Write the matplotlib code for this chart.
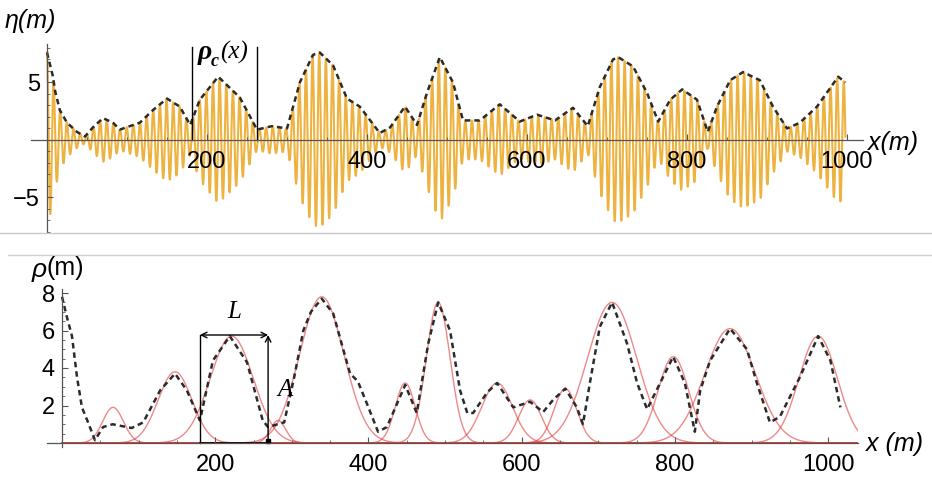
import numpy as np
import matplotlib.pyplot as plt
from matplotlib.ticker import MultipleLocator

# -----------------------------
# Data
# -----------------------------

# top panel: envelope of eta (dashed), x in m, value in m
eta_env_x = [0, 7.5, 10, 16, 25, 37.5, 47.5, 57.5, 70, 82.5, 91, 116, 132.5, 150, 166,
             179, 191, 214, 241, 262.5, 281, 300, 312.5, 316, 332.5, 341, 357.5, 375,
             391, 404, 416, 429, 447.5, 462.5, 475, 491, 507.5, 520, 541, 566, 591,
             612.5, 635, 657.5, 676, 691, 707.5, 714, 732.5, 750, 764, 779, 794, 812.5,
             826, 837.5, 854, 870, 891, 907.5, 925, 941, 962.5, 989, 998]
eta_env_y = [7.6, 5.5, 4.3, 2.6, 1.5, 0.7, 0.3, 1.1, 1.9, 1.5, 0.9, 1.5, 2.6, 3.6, 2.9,
             1.3, 3.5, 5.5, 3.7, 0.9, 1.2, 1.0, 4.1, 5.0, 7.4, 7.6, 6.5, 3.6,
             2.9, 1.7, 0.6, 1.1, 2.9, 1.3, 4.1, 7.2, 5.0, 1.7, 1.7, 3.1, 1.6,
             2.2, 1.7, 2.8, 1.2, 4.6, 7.0, 7.2, 6.4, 4.1, 1.6, 3.5, 4.4, 3.5,
             0.7, 2.9, 5.2, 5.9, 5.2, 2.9, 1.0, 1.5, 2.9, 5.5, 5.0]
carrier_wavelength = 8.3  # m, spacing of the orange spikes

# bottom panel: rho envelope (dashed)
rho_x = [0, 6.5, 13, 19.6, 26, 34, 43, 53.5, 66, 91, 106, 128, 147.5, 163, 180, 197,
         219, 241.5, 262, 269, 290, 303, 315, 325, 339, 354, 367, 376, 386, 398,
         412.5, 424, 448, 463, 478, 491, 506.5, 519.6, 529, 536.6, 555, 568, 589,
         611, 628, 641, 657, 672, 680, 689, 702, 718, 737.6, 750.7, 763.7, 780.7,
         797.7, 813, 826, 833, 846, 872, 894, 907, 924, 937, 963, 987, 1003, 1016]
rho_y = [7.8, 6.7, 5.7, 3.5, 1.9, 1.1, 0.15, 0.85, 1.0, 0.8, 1.1, 2.8, 3.7, 2.8, 1.2, 4.4,
         5.7, 4.3, 1.2, 0.85, 1.1, 3.5, 6.0, 7.0, 7.7, 6.9, 5.0, 3.7, 3.3, 2.1,
         0.6, 0.85, 3.1, 1.6, 5.3, 7.5, 6.0, 2.8, 1.6, 1.6, 2.7, 3.2, 1.9,
         2.2, 1.65, 2.3, 2.9, 1.9, 1.0, 3.2, 6.2, 7.5, 5.3, 3.2, 1.8, 3.2,
         4.6, 3.2, 0.6, 2.8, 4.4, 6.1, 5.0, 3.2, 1.1, 1.4, 3.5, 5.7, 4.4, 1.9]

# bottom panel: individual wave groups (centre, height, width)
group_centre = [66.6, 147.5, 221.5, 282, 339, 448, 491, 568, 611, 657, 718, 798, 872, 987]
group_height = [1.9, 3.8, 5.7, 1.2, 7.8, 3.2, 7.5, 3.2, 2.3, 2.9, 7.5, 4.6, 6.1, 5.7]
group_sigma = [13.5, 22, 28, 10, 29, 13, 15.5, 20, 15, 15, 32, 20, 33, 25]

# annotations
rhoc_left, rhoc_right = 181, 262.5
L_left, L_right, L_top = 180, 269, 5.76

ORANGE = '#EBAA2A'
RED = '#E23B3B'
GRAY = '#555555'


def style_axes(ax):
    for s in ['top', 'right']:
        ax.spines[s].set_visible(False)
    ax.spines['left'].set_position(('data', 0))
    ax.spines['bottom'].set_position(('data', 0))
    for s in ['left', 'bottom']:
        ax.spines[s].set_color(GRAY)
        ax.spines[s].set_linewidth(0.9)
    ax.set_axisbelow(False)
    ax.tick_params(which='both', direction='in', color=GRAY, labelsize=17)
    ax.tick_params(which='major', length=4, width=0.8)
    ax.tick_params(which='minor', length=2.5, width=0.6)
    ax.tick_params(axis='x', pad=8)
    ax.tick_params(axis='y', pad=5)
    ax.patch.set_alpha(0)


plt.rcParams['font.family'] = ['Liberation Sans', 'DejaVu Sans']
fig = plt.figure(figsize=(9.32, 4.78), dpi=100)

# -----------------------------
# Top panel: eta(x)
# -----------------------------
ax1 = fig.add_axes([31 / 932, 1 - 232 / 478, 832 / 932, 187.5 / 478])
xs = np.arange(0, 998.01, 0.2)
env = np.interp(xs, eta_env_x, eta_env_y)
eta = env * np.cos(2 * np.pi * xs / carrier_wavelength)
ax1.plot(xs, eta, color=ORANGE, lw=1.5, alpha=0.9)
ax1.plot(eta_env_x, eta_env_y, color='#2b2b2b', lw=1.8, ls=(0, (2.2, 1.6)))
ax1.set_xlim(-20, 1020)
ax1.set_ylim(-8.0, 8.3)
style_axes(ax1)
ax1.set_xticks([200, 400, 600, 800, 1000])
ax1.xaxis.set_minor_locator(MultipleLocator(50))
ax1.set_yticks([-5, 5])
ax1.yaxis.set_minor_locator(MultipleLocator(1))

# rho_c bracket
ax1.plot([rhoc_left, rhoc_left], [0, 8.1], color='black', lw=1)
ax1.plot([rhoc_right, rhoc_right], [0, 8.1], color='black', lw=1)
ax1.text(188, 7.6, 'ρ', fontsize=20, family='Liberation Serif',
         weight='bold', style='italic', ha='left', va='center')
ax1.text(205, 6.8, 'c', fontsize=13, family='Liberation Serif',
         weight='bold', style='italic', ha='left', va='center')
ax1.text(216, 7.6, '(x)', fontsize=18, family='Liberation Serif',
         style='italic', ha='left', va='center')

fig.text(5 / 932, 1 - 21 / 478, 'η(m)', fontsize=18, style='italic', va='center', ha='left')
fig.text(868 / 932, 1 - 143 / 478, 'x(m)', fontsize=18, style='italic', va='center', ha='left')

# -----------------------------
# Bottom panel: rho(x) and wave groups
# -----------------------------
ax2 = fig.add_axes([46.7 / 932, 1 - 446.75 / 478, 811.3 / 932, 157.5 / 478])
xg = np.linspace(0, 1039, 2000)
for c, h, s in zip(group_centre, group_height, group_sigma):
    ax2.plot(xg, h * np.exp(-(xg - c) ** 2 / (2 * s ** 2)), color=RED, lw=1.0, alpha=0.6)
ax2.plot(rho_x, rho_y, color='#2b2b2b', lw=1.8, ls=(0, (2.2, 1.6)))
ax2.set_xlim(-20, 1039)
ax2.set_ylim(-0.2, 8.2)
style_axes(ax2)
ax2.set_xticks([200, 400, 600, 800, 1000])
ax2.xaxis.set_minor_locator(MultipleLocator(50))
ax2.set_yticks([2, 4, 6, 8])
ax2.yaxis.set_minor_locator(MultipleLocator(0.5))

# L box and A arrow
ax2.plot([L_left, L_left], [0, L_top], color='black', lw=1)
ax2.plot([L_left, L_right], [0, 0], color='black', lw=1.2)
ax2.annotate('', xy=(L_left, L_top), xytext=(L_right, L_top),
             arrowprops=dict(arrowstyle='<->', color='black', lw=1, shrinkA=0, shrinkB=0))
ax2.annotate('', xy=(L_right, L_top), xytext=(L_right, 0),
             arrowprops=dict(arrowstyle='->', color='black', lw=1, shrinkA=0, shrinkB=0))
ax2.plot([L_right], [0.1], marker='s', ms=3.5, color='black')
ax2.text((L_left + L_right) / 2, 7.0, 'L', fontsize=18, family='Liberation Serif',
         style='italic', ha='center', va='center')
ax2.text(L_right + 22, 2.85, 'A', fontsize=18, family='Liberation Serif',
         style='italic', ha='center', va='center')

fig.text(32 / 932, 1 - 270 / 478, 'ρ', fontsize=19, style='italic', va='center', ha='left')
fig.text(47 / 932, 1 - 268 / 478, '(m)', fontsize=18, va='center', ha='left')
fig.text(866 / 932, 1 - 444 / 478, 'x (m)', fontsize=18, style='italic', va='center', ha='left')

# separator lines between the two pictures
fig.add_artist(plt.Line2D([0, 1], [1 - 233 / 478, 1 - 233 / 478], color='#c8c8c8', lw=1))
fig.add_artist(plt.Line2D([8 / 932, 1], [1 - 255 / 478, 1 - 255 / 478], color='#d0d0d0', lw=1))

fig.savefig('out.png', dpi=100)
